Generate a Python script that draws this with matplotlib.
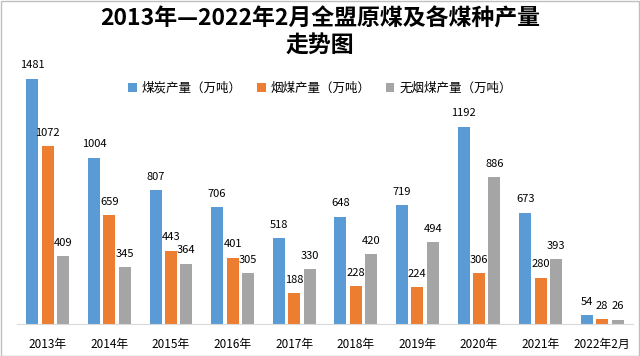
import numpy as np
import matplotlib.pyplot as plt
from matplotlib.patches import Rectangle

plt.rcParams['font.family'] = ['Noto Sans CJK SC', 'DejaVu Sans']

years = ['2013年', '2014年', '2015年', '2016年', '2017年', '2018年',
         '2019年', '2020年', '2021年', '2022年2月']
coal = [1481, 1004, 807, 706, 518, 648, 719, 1192, 673, 54]
bituminous = [1072, 659, 443, 401, 188, 228, 224, 306, 280, 28]
anthracite = [409, 345, 364, 305, 330, 420, 494, 886, 393, 26]

names = ['煤炭产量（万吨）', '烟煤产量（万吨）', '无烟煤产量（万吨）']
colors = ['#5b9bd5', '#ed7d31', '#a5a5a5']

fig = plt.figure(figsize=(6.4, 3.56), dpi=100)
ax = fig.add_axes([17/640, 32/356, 616/640, 265/356])

x = np.arange(len(years))
w = 0.195
step = 0.25
for i, (vals, c, n) in enumerate(zip([coal, bituminous, anthracite], colors, names)):
    pos = x + (i - 1) * step
    bars = ax.bar(pos, vals, width=w, color=c, label=n)
    for p, v in zip(pos, vals):
        ax.annotate(str(v), (p, v), xytext=(0, 6), textcoords='offset points',
                    ha='center', va='bottom', fontsize=8, color='#000000')

ax.set_xlim(-0.5, len(years) - 0.5)
ax.set_ylim(0, 1600)
ax.set_xticks(x)
ax.set_xticklabels(years, fontsize=8.5)
ax.tick_params(axis='x', length=0, pad=10)
ax.set_yticks([])
for s in ['left', 'right', 'top']:
    ax.spines[s].set_visible(False)
ax.spines['bottom'].set_color('#d9d9d9')

fig.text(0.5, 0.978, '2013年—2022年2月全盟原煤及各煤种产量\n走势图',
         ha='center', va='top', fontsize=16.5, fontweight='bold', linespacing=1.2)

fig.legend(loc='center', bbox_to_anchor=(0.5, 1 - 88/356), ncol=3, frameon=False,
           fontsize=9, handlelength=0.7, handleheight=0.7, columnspacing=1.2,
           handletextpad=0.4)

fig.patches.append(Rectangle((0.5/640, 0.5/356), 1 - 1.5/640, 1 - 1.5/356,
                             transform=fig.transFigure, fill=False,
                             edgecolor='#bfbfbf', linewidth=1))

fig.savefig('out.png', dpi=100)
